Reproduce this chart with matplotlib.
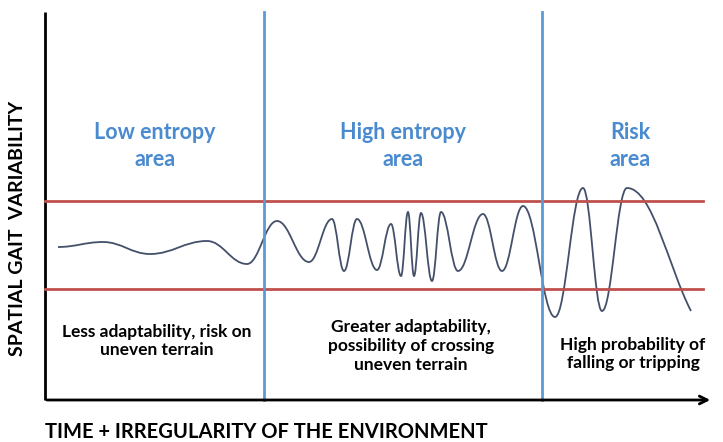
import numpy as np
import matplotlib.pyplot as plt
from matplotlib.path import Path
from matplotlib.patches import PathPatch

plt.rcParams['font.family'] = ['Lato', 'DejaVu Sans']

# curve extrema (time, variability)
curve_x = [13, 58, 105, 162, 202, 232, 264, 287, 299, 312, 332, 346, 356,
           363, 369, 376, 387, 396, 413, 438, 457, 478, 510, 538, 557, 582, 646]
curve_y = [153, 158, 146, 159, 136, 179, 138, 181, 129, 181, 130, 176, 124,
           188, 124, 187, 119, 188, 129, 186, 129, 194, 83, 212, 89, 212, 89]

limit_levels = [111, 199]      # red band
zone_bounds = [219, 497]       # blue separators
y_top = 388
x_end = 668

zone_titles = ['Low entropy\narea', 'High entropy\narea', 'Risk\narea']
zone_title_x = [110, 358, 585]
zone_notes = ['Less adaptability, risk on\nuneven terrain',
              'Greater adaptability,\npossibility of crossing\nuneven terrain',
              'High probability of\nfalling or tripping']
zone_note_x = [112, 366, 588]
zone_note_y = [59, 54, 46]

blue = '#5B9BD5'
red = '#C0504D'
title_blue = '#4A8BD0'

fig = plt.figure(figsize=(7.23, 4.42), dpi=100)
ax = fig.add_axes([0, 0, 1, 1])
ax.set_xlim(-45, 678)
ax.set_ylim(-42, 400)
ax.axis('off')

# axes of the diagram
ax.plot([0, 0], [0, y_top], color='black', lw=2, solid_capstyle='butt')
ax.annotate('', xy=(x_end, 0), xytext=(-1, 0),
            arrowprops=dict(arrowstyle='->', color='black', lw=2,
                            mutation_scale=14))

for lv in limit_levels:
    ax.plot([0, 658], [lv, lv], color=red, lw=2)
for b in zone_bounds:
    ax.plot([b, b], [0, y_top], color=blue, lw=2)

# smooth curve: cubic bezier between extrema, flat tangents at extrema
verts = [(curve_x[0], curve_y[0])]
codes = [Path.MOVETO]
n = len(curve_x)
for i in range(n - 1):
    x0, y0 = curve_x[i], curve_y[i]
    x1, y1 = curve_x[i + 1], curve_y[i + 1]
    dx = x1 - x0
    c1 = (x0 + 0.4 * dx, y0)
    if i == n - 2:
        c2 = (x1 - 0.35 * dx, y1 + 0.35 * (y0 - y1))
    else:
        c2 = (x1 - 0.4 * dx, y1)
    verts += [c1, c2, (x1, y1)]
    codes += [Path.CURVE4] * 3
ax.add_patch(PathPatch(Path(verts, codes), fill=False,
                       edgecolor='#44506A', lw=1.3))

for t, x in zip(zone_titles, zone_title_x):
    ax.text(x, 254, t, color=title_blue, fontsize=15.5, fontweight='bold',
            ha='center', va='center', linespacing=1.3)
for t, x, y in zip(zone_notes, zone_note_x, zone_note_y):
    ax.text(x, y, t, color='black', fontsize=12.5, fontweight='bold',
            ha='center', va='center', linespacing=1.2)

ax.text(-27, 172, 'SPATIAL GAIT  VARIABILITY', rotation=90, fontsize=14,
        fontweight='bold', ha='center', va='center')
ax.text(0, -32, 'TIME + IRREGULARITY OF THE ENVIRONMENT', fontsize=14.5,
        fontweight='bold', ha='left', va='center')

fig.savefig('out.png', dpi=100)
